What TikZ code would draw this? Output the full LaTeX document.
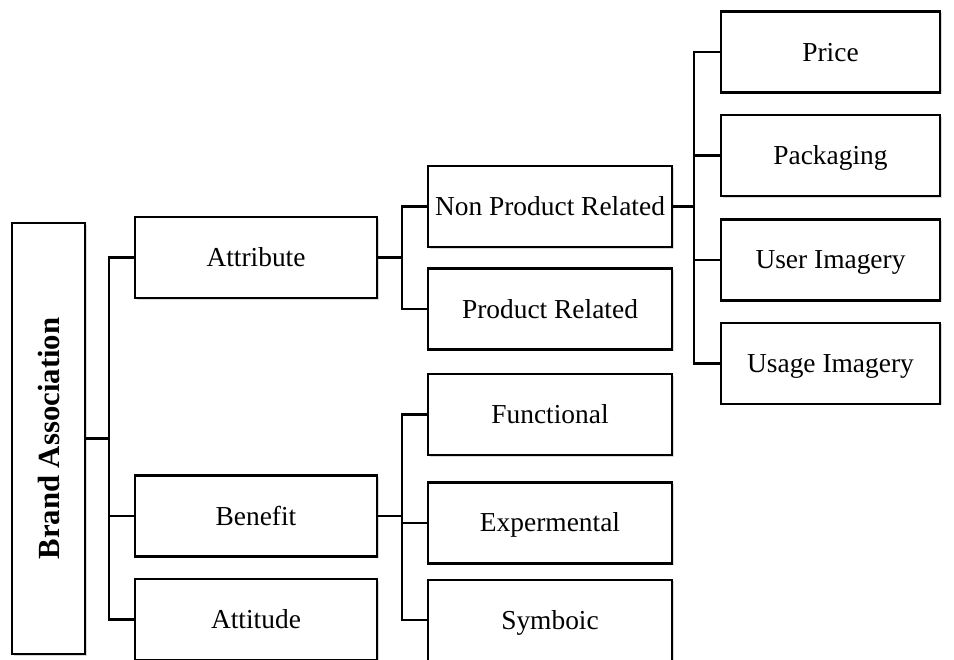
\documentclass[tikz,border=0pt]{standalone}
\usepackage{fontspec}
\setmainfont{Liberation Serif}
\usepackage{tikz}
\usetikzlibrary{positioning, shadows}

\begin{document}
\begin{tikzpicture}[
    node distance=0.4cm,
    catbox/.style={rectangle, draw, line width=1.4pt, fill=white, inner xsep=2pt, drop shadow={shadow xshift=0.9pt, shadow yshift=-0.9pt, opacity=0.3}, font=\fontsize{15.6}{18}\selectfont},
    root/.style={catbox, minimum width=1.46cm, minimum height=8.62cm, font=\fontsize{17.5}{20}\selectfont\bfseries},
    groupbox/.style={catbox, minimum width=4.84cm, minimum height=1.62cm, text height=10.3pt, text depth=0pt},
    typebox/.style={groupbox, minimum width=4.88cm},
    itembox/.style={groupbox, minimum width=4.38cm},
    link/.style={line width=1.3pt}
]
\useasboundingbox (0,0) rectangle (19.08,-13.18);

% Root node
\node[root] (brand) at (0.97,-8.77) {\rotatebox{90}{Brand Association}};

% First level
\node[groupbox] (attr) at (5.12,-5.15) {Attribute};
\node[groupbox, below=3.5cm of attr] (ben) {Benefit};
\node[groupbox, below=0.4cm of ben] (att) {Attitude};

% Second level
\node[typebox] (npr) at (11.0,-4.13) {Non Product Related};
\node[typebox, below=0.38cm of npr] (pr) {Product Related};
\node[typebox, below=0.44cm of pr] (func) {Functional};
\node[typebox, below=0.5cm of func] (exp) {Expermental};
\node[typebox, below=0.28cm of exp] (sym) {Symboic};

% Third level
\node[itembox] (price) at (16.61,-1.04) {Price};
\node[itembox, below=0.4cm of price] (pack) {Packaging};
\node[itembox, below=0.42cm of pack] (user) {User Imagery};
\node[itembox, below=0.4cm of user] (usage) {Usage Imagery};

% Connectors
\coordinate[right=0.46cm of brand] (bj);
\coordinate[right=0.48cm of attr] (aj);
\coordinate[right=0.48cm of ben] (fj);
\coordinate[right=0.42cm of npr] (nj);

\draw[link] (brand) -- (bj);
\foreach \n in {attr, ben, att}
    \draw[link] (bj) |- (\n.west);

\draw[link] (attr) -- (aj);
\foreach \n in {npr, pr}
    \draw[link] (aj) |- (\n.west);

\draw[link] (ben) -- (fj);
\foreach \n in {func, exp, sym}
    \draw[link] (fj) |- (\n.west);

\draw[link] (npr) -- (nj);
\foreach \n in {price, pack, user, usage}
    \draw[link] (nj) |- (\n.west);

\end{tikzpicture}
\end{document}
